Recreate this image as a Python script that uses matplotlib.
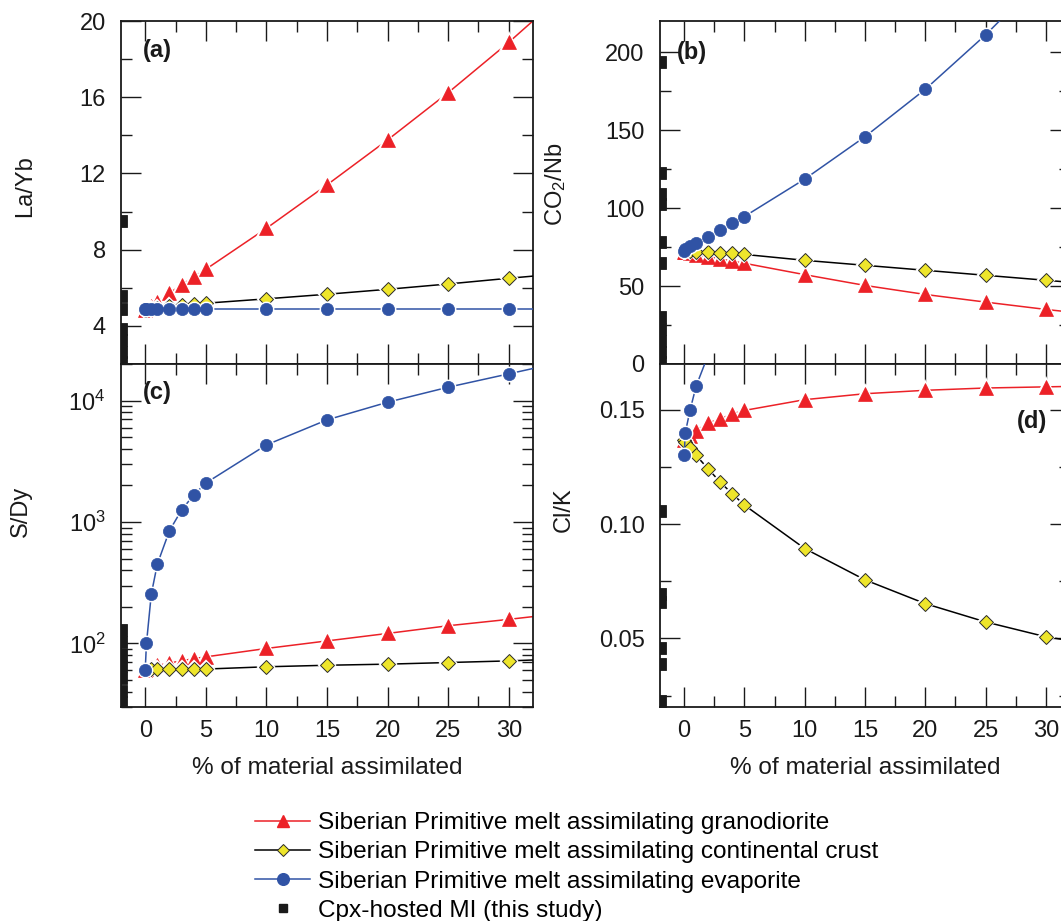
import matplotlib
matplotlib.use("Agg")
import matplotlib.pyplot as plt
from matplotlib.lines import Line2D
from matplotlib.ticker import MultipleLocator, LogLocator, FormatStrFormatter, NullFormatter

plt.rcParams['font.family'] = ['Liberation Sans', 'DejaVu Sans']
plt.rcParams['mathtext.fontset'] = 'custom'
plt.rcParams['mathtext.rm'] = 'Liberation Sans'
plt.rcParams['mathtext.it'] = 'Liberation Sans:italic'
plt.rcParams['mathtext.bf'] = 'Liberation Sans:bold'
plt.rcParams['mathtext.default'] = 'regular'

# ---------------------------------------------------------------- data
pct_assimilated = [0, 0.1, 0.5, 1, 2, 3, 4, 5, 10, 15, 20, 25, 30, 35]

la_yb_granodiorite = [4.84, 4.90, 5.02, 5.25, 5.72, 6.15, 6.57, 6.97, 9.12, 11.40, 13.76, 16.24, 18.88, 21.70]
la_yb_crust = [4.84, 4.85, 4.90, 4.96, 5.05, 5.10, 5.15, 5.19, 5.42, 5.66, 5.92, 6.20, 6.50, 6.78]
la_yb_evaporite = [4.87, 4.87, 4.87, 4.87, 4.87, 4.87, 4.87, 4.87, 4.87, 4.87, 4.87, 4.87, 4.87, 4.87]

co2_nb_granodiorite = [72.0, 71.8, 71.0, 70.0, 68.8, 67.4, 66.0, 64.6, 57.3, 50.4, 44.6, 39.7, 35.0, 30.8]
co2_nb_crust = [72.3, 72.3, 72.2, 72.0, 71.8, 71.3, 70.9, 70.3, 66.5, 63.3, 60.1, 56.9, 53.7, 50.5]
co2_nb_evaporite = [72.5, 73.5, 75.5, 77.6, 81.5, 85.8, 90.6, 94.6, 118.6, 145.8, 176.2, 211.1, 250.0, 292.0]

s_dy_granodiorite = [61, 62, 64, 66, 69, 72, 75, 77.6, 91, 105, 121, 140, 158, 180]
s_dy_crust = [61, 61, 61.3, 61.5, 61.5, 61.5, 61.5, 61.6, 64.3, 66.2, 67.6, 69.7, 71.9, 75.0]
s_dy_evaporite = [61, 100, 255, 451, 849, 1256, 1671, 2094, 4315, 6934, 9689, 12880, 16590, 21400]

cl_k_granodiorite = [0.1366, 0.1370, 0.1387, 0.1409, 0.1442, 0.1460, 0.1482, 0.1497, 0.1544, 0.1570, 0.1585, 0.1595, 0.1600, 0.1605]
cl_k_crust = [0.1366, 0.1360, 0.1333, 0.1300, 0.1241, 0.1183, 0.1132, 0.1083, 0.0893, 0.0756, 0.0652, 0.0572, 0.0507, 0.0465]
cl_k_evaporite = [0.130, 0.140, 0.150, 0.1604, 0.174]

# Cpx-hosted melt inclusions, shown as marks along the left axis
mi_la_yb = [9.5, 5.55, 4.9, 3.85, 3.25, 2.65, 2.1]
mi_co2_nb = [193.4, 122.8, 109.0, 102.5, 78.0, 65.0, 30.0, 22.5, 15.0, 7.5, 1.0]
mi_s_dy = [128, 102, 81, 65, 52, 41, 33]
mi_cl_k = [0.1055, 0.0696, 0.0658, 0.0456, 0.0386, 0.0225]

series_labels = [
    "Siberian Primitive melt assimilating granodiorite",
    "Siberian Primitive melt assimilating continental crust",
    "Siberian Primitive melt assimilating evaporite",
    "Cpx-hosted MI (this study)",
]
x_ticks = [0, 5, 10, 15, 20, 25, 30]

# ---------------------------------------------------------------- styles
RED = '#EC2127'
BLUE = '#3053A5'
YEL = '#EEE52B'
INK = '#1a1a1a'
XLIM = (-2, 32)
W, H = 1061, 921
FS_TICK = 17
FS_LAB = 17.6

fig = plt.figure(figsize=(W / 100, H / 100), dpi=100)


def px_axes(left, top, right, bottom):
    return fig.add_axes([left / W, 1 - bottom / H, (right - left) / W, (bottom - top) / H])


STYLES = {
    'gran': dict(color=RED, marker='^', ms=10, mfc=RED, mec=RED, mew=0.5, z=2),
    'crust': dict(color='black', marker='D', ms=7.2, mfc=YEL, mec='#2a2a2a', mew=0.7, z=3),
    'evap': dict(color=BLUE, marker='o', ms=8.8, mfc=BLUE, mec=BLUE, mew=0.5, z=4),
}


def draw_series(ax, x, y, key):
    s = STYLES[key]
    ax.plot(x, y, color=s['color'], lw=1.1, zorder=s['z'])
    # white halo around each symbol, then the symbol itself
    ax.plot(x, y, ls='none', marker=s['marker'], ms=s['ms'], mfc='white', mec='white',
            mew=2.6, zorder=s['z'] + 0.1)
    ax.plot(x, y, ls='none', marker=s['marker'], ms=s['ms'], mfc=s['mfc'], mec=s['mec'],
            mew=s['mew'], zorder=s['z'] + 0.2)


def draw_mi(ax, values):
    ax.plot([XLIM[0]] * len(values), values, ls='none', marker='s', ms=8.4,
            color=INK, mec=INK, mew=0.6, zorder=6, clip_on=True)


def style_axes(ax, show_xlabels):
    ax.set_xlim(*XLIM)
    ax.set_xticks(x_ticks)
    ax.xaxis.set_minor_locator(MultipleLocator(2.5))
    ax.tick_params(which='both', direction='in', top=True, right=True, width=1.0,
                   labelsize=FS_TICK, colors=INK)
    ax.tick_params(which='major', length=14.5)
    ax.tick_params(which='minor', length=8)
    ax.tick_params(axis='y', pad=11)
    ax.tick_params(axis='x', pad=9, labelbottom=show_xlabels)
    for sp in ax.spines.values():
        sp.set_linewidth(1.3)
        sp.set_color(INK)


LEFT_COL = (121, 533)
RIGHT_COL = (660, 1070)
TOP_ROW = (21, 364)
BOT_ROW = (364, 707)

# ---------------------------------------------------------------- (a) La/Yb
ax_a = px_axes(LEFT_COL[0], TOP_ROW[0], LEFT_COL[1], TOP_ROW[1])
draw_series(ax_a, pct_assimilated, la_yb_granodiorite, 'gran')
draw_series(ax_a, pct_assimilated, la_yb_crust, 'crust')
draw_series(ax_a, pct_assimilated, la_yb_evaporite, 'evap')
draw_mi(ax_a, mi_la_yb)
ax_a.set_ylim(2, 20)
ax_a.yaxis.set_major_locator(MultipleLocator(4))
ax_a.yaxis.set_minor_locator(MultipleLocator(2))
style_axes(ax_a, False)

# ---------------------------------------------------------------- (b) CO2/Nb
ax_b = px_axes(RIGHT_COL[0], TOP_ROW[0], RIGHT_COL[1], TOP_ROW[1])
draw_series(ax_b, pct_assimilated, co2_nb_granodiorite, 'gran')
draw_series(ax_b, pct_assimilated, co2_nb_crust, 'crust')
draw_series(ax_b, pct_assimilated, co2_nb_evaporite, 'evap')
draw_mi(ax_b, mi_co2_nb)
ax_b.set_ylim(0, 220)
ax_b.yaxis.set_major_locator(MultipleLocator(50))
ax_b.yaxis.set_minor_locator(MultipleLocator(25))
style_axes(ax_b, False)

# ---------------------------------------------------------------- (c) S/Dy
ax_c = px_axes(LEFT_COL[0], BOT_ROW[0], LEFT_COL[1], BOT_ROW[1])
draw_series(ax_c, pct_assimilated, s_dy_granodiorite, 'gran')
draw_series(ax_c, pct_assimilated, s_dy_crust, 'crust')
draw_series(ax_c, pct_assimilated, s_dy_evaporite, 'evap')
draw_mi(ax_c, mi_s_dy)
ax_c.set_yscale('log')
ax_c.set_ylim(30, 20000)
ax_c.yaxis.set_major_locator(LogLocator(base=10, numticks=10))
ax_c.yaxis.set_minor_locator(LogLocator(base=10, subs=range(2, 10), numticks=20))
ax_c.yaxis.set_minor_formatter(NullFormatter())
style_axes(ax_c, True)

# ---------------------------------------------------------------- (d) Cl/K
ax_d = px_axes(RIGHT_COL[0], BOT_ROW[0], RIGHT_COL[1], BOT_ROW[1])
draw_series(ax_d, pct_assimilated, cl_k_granodiorite, 'gran')
draw_series(ax_d, pct_assimilated, cl_k_crust, 'crust')
draw_series(ax_d, pct_assimilated[:len(cl_k_evaporite)], cl_k_evaporite, 'evap')
draw_mi(ax_d, mi_cl_k)
ax_d.set_ylim(0.02, 0.17)
ax_d.yaxis.set_major_locator(MultipleLocator(0.05))
ax_d.yaxis.set_minor_locator(MultipleLocator(0.025))
ax_d.yaxis.set_major_formatter(FormatStrFormatter('%.2f'))
style_axes(ax_d, True)

# ---------------------------------------------------------------- labels
def ptext(x, y, s, **kw):
    fig.text(x / W, 1 - y / H, s, **kw)


ptext(25, 186, "La/Yb", rotation=90, ha='center', va='center', fontsize=FS_TICK, color=INK)
ptext(556, 184, "CO$_2$/Nb", rotation=90, ha='center', va='center', fontsize=FS_TICK, color=INK)
ptext(21, 511, "S/Dy", rotation=90, ha='center', va='center', fontsize=FS_TICK, color=INK)
ptext(564, 510, "Cl/K", rotation=90, ha='center', va='center', fontsize=FS_TICK, color=INK)
ptext(sum(LEFT_COL) / 2, 768, "% of material assimilated", ha='center', va='center',
      fontsize=FS_LAB, color=INK)
ptext(sum(RIGHT_COL) / 2, 768, "% of material assimilated", ha='center', va='center',
      fontsize=FS_LAB, color=INK)

for x, y, s in [(143, 51, "(a)"), (677, 52, "(b)"), (143, 393, "(c)"), (1017, 421, "(d)")]:
    ptext(x, y, s, ha='left', va='center', fontsize=FS_TICK, fontweight='bold', color=INK)

# ---------------------------------------------------------------- legend
handles = [
    Line2D([], [], color=RED, lw=1.1, marker='^', ms=8.5, mfc=RED, mec=RED),
    Line2D([], [], color='black', lw=1.1, marker='D', ms=6.5, mfc=YEL, mec='#2a2a2a', mew=0.7),
    Line2D([], [], color=BLUE, lw=1.1, marker='o', ms=8.4, mfc=BLUE, mec=BLUE),
    Line2D([], [], ls='none', marker='s', ms=6, color=INK),
]
fig.legend(handles, series_labels, loc='upper left', bbox_to_anchor=(255 / W, 1 - 812 / H),
           frameon=False, fontsize=FS_LAB, handlelength=2.25, handletextpad=0.33,
           borderpad=0, borderaxespad=0, labelspacing=0.29)

fig.savefig("out.png", dpi=100)
